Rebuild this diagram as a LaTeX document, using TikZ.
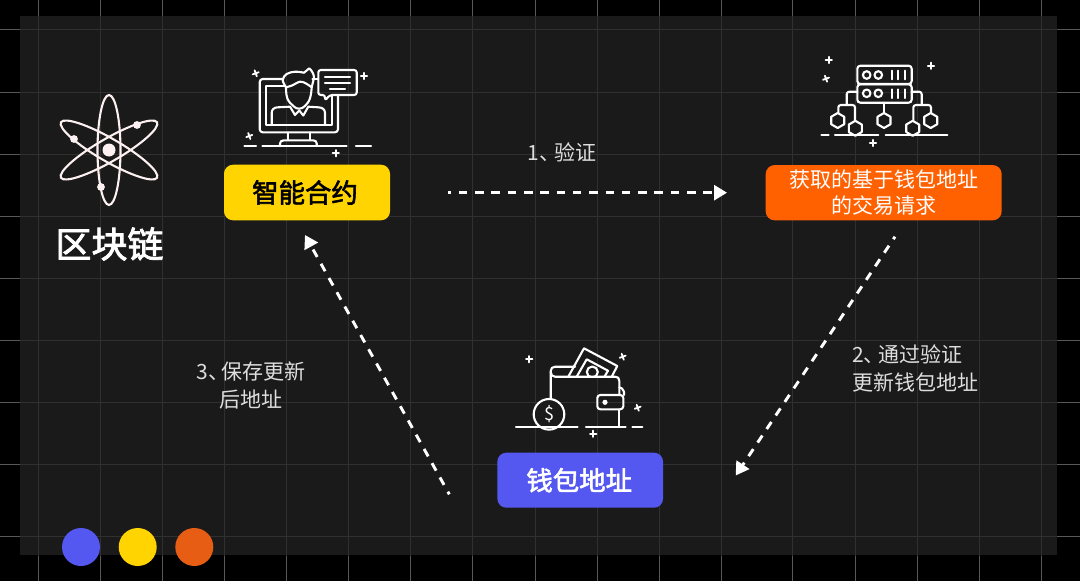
\documentclass[tikz,border=0pt]{standalone}
\usepackage{fontspec}
\setmainfont{Noto Sans CJK SC}
\newfontfamily\heavyfont[FakeBold=2.2]{Noto Sans CJK SC}
\usetikzlibrary{arrows.meta}
\definecolor{panelc}{HTML}{1A1A1A}
\definecolor{gridin}{HTML}{303030}
\definecolor{gridout}{HTML}{585858}
\definecolor{cyellow}{HTML}{FFD400}
\definecolor{corange}{HTML}{FF6000}
\definecolor{cblue}{HTML}{5558F0}
\definecolor{cdot}{HTML}{E85D14}
\definecolor{catom}{HTML}{FDF0F0}
\definecolor{ctext}{HTML}{DEDEDE}
\tikzset{
  x=1pt,y=-1pt,
  gridv/.style={line width=1pt},
  tag/.style={rounded corners=9pt,inner sep=0pt,outer sep=0pt,align=center,font=\heavyfont\fontsize{26.4}{30}\selectfont},
  lbl/.style={text=ctext,inner sep=0pt,font=\fontsize{21}{28}\selectfont},
  icon/.style={draw=white,line width=2.1pt,line cap=round,line join=round,fill=none},
  flow/.style={draw=white,line width=2.9pt,dash pattern=on 8.5pt off 7.8pt,dash phase=5.5pt,-{Triangle[length=13pt,width=15pt]}},
  orbit/.style={draw=catom,line width=2.1pt,fill=none},
  sparkle/.pic={\draw[white,line width=1.8pt,line cap=round] (-3.2,0)--(3.2,0) (0,-3.2)--(0,3.2);},
  hexa/.pic={\draw[icon,fill=panelc] (90:7.5)--(150:7.5)--(210:7.5)--(270:7.5)--(330:7.5)--(30:7.5)--cycle;}
}
\begin{document}
\begin{tikzpicture}
\useasboundingbox (0,0) rectangle (1080,581);
\fill[black] (0,0) rectangle (1080,581);
% grid on the black ground
\foreach \gx in {38.3,100,162.3,224.3,286.3,348.7,410.7,472.7,535,597,659.3,721,792.7,855,917,979.3,1041.3}
  \draw[gridv,gridout] (\gx,0)--(\gx,581);
\foreach \gy in {29.6,92,154,216,278.5,340,402.5,464.5,536}
  \draw[gridv,gridout] (0,\gy)--(1080,\gy);
% panel
\fill[panelc] (20,16) rectangle (1056.7,555);
\begin{scope}
\clip (20,16) rectangle (1056.7,555);
\foreach \gx in {38.3,100,162.3,224.3,286.3,348.7,410.7,472.7,535,597,659.3,721,792.7,855,917,979.3,1041.3}
  \draw[gridv,gridin] (\gx,0)--(\gx,581);
\foreach \gy in {29.6,92,154,216,278.5,340,402.5,464.5,536}
  \draw[gridv,gridin] (0,\gy)--(1080,\gy);
\end{scope}

% atom
\draw[orbit] (109,150) ellipse [x radius=11.5,y radius=55];
\draw[orbit,rotate around={60:(109,150)}] (109,150) ellipse [x radius=11.5,y radius=55.5];
\draw[orbit,rotate around={-60:(109,150)}] (109,150) ellipse [x radius=11.5,y radius=55.5];
\fill[catom] (109,150) circle (6.5) (137,125) circle (3.9) (74,139) circle (3.9) (101,187) circle (3.9);
\node[text=white,inner sep=0pt,font=\heavyfont\fontsize{36}{40}\selectfont] (title) at (109.5,244) {区块链};

% monitor icon
\draw[icon,rounded corners=3pt] (283,79)--(259.7,79)--(259.7,132.3)--(338,132.3)--(338,96);
\draw[icon] (312.5,79)--(318,79);
\draw[icon] (285,86)--(265.7,86)--(265.7,125.3)--(331.7,125.3)--(331.7,96);
% person
\draw[icon] plot[smooth,tension=0.7] coordinates {(286,87.3) (287.3,98.3) (293.3,106) (299,108.7) (305,106) (310,98.3) (311.7,87.3)};
\draw[icon] plot[smooth,tension=0.6] coordinates {(286,87.3) (282.7,80) (286.7,74) (295,71.7) (304,72.7)};
\draw[icon] (304,72.7) -- (309.3,68.3) .. controls (312,71) and (314,74) .. (314,78) -- (311.7,87.3);
\draw[icon] plot[smooth,tension=0.6] coordinates {(286,87.3) (292,85.5) (300,81.7) (306,83.5) (311.7,87.3)};
\draw[icon] (271.7,125) -- (271.7,113) .. controls (271.7,109.5) and (274,107.3) .. (278,107.3) -- (290,106.7) -- (295,115) -- (299.3,110.5) -- (303.3,115.5) -- (308.3,106.7) -- (318,107.3) .. controls (322.5,107.3) and (325,109.5) .. (325,113) -- (325,125);
% bubble
\draw[icon,rounded corners=2.5pt] (325,95) -- (318.3,95) -- (318.3,70) -- (356.7,70) -- (356.7,95) -- (330,95) -- (325,100.5) -- cycle;
\draw[icon] (325,76.7)--(350,76.7) (325,82.7)--(350,82.7) (330,88.7)--(345,88.7);
% stand
\draw[icon] (288.3,132.3)--(288.3,140) (310,132.3)--(310,140);
\draw[icon] (280,146)--(280,143.5) .. controls (280,141.5) and (281.5,140.3) .. (284,140.3) -- (313,140.3) .. controls (315.5,140.3) and (316.7,141.5) .. (316.7,143.5) -- (316.7,146);
\draw[icon] (244.5,146)--(256,146) (262.5,146)--(346.5,146) (356,146)--(371,146);
\pic at (364,76) {sparkle};
\pic at (335.7,153.3) {sparkle};
\pic[rotate=20] at (255.7,73.3) {sparkle};
\pic[rotate=20] at (249.3,136) {sparkle};

% server icon
\draw[icon,rounded corners=3pt] (857.3,65.7) rectangle (911.7,84);
\draw[icon,rounded corners=3pt] (857.3,84.3) rectangle (911.7,102.7);
\foreach \cy/\bt/\bb in {75/70.7/79.3,93.3/89.3/98}{
  \draw[icon] (866.7,\cy) circle (3.8) (878.3,\cy) circle (3.8);
  \draw[icon] (892,\bt)--(892,\bb) (898.3,\bt)--(898.3,\bb) (905,\bt)--(905,\bb);
}
\draw[icon,rounded corners=2.5pt] (857.3,91.7)--(846.7,91.7)--(846.7,105);
\draw[icon,rounded corners=2.5pt] (838.3,114)--(838.3,105)--(855,105)--(855,121.7);
\draw[icon] (884,102.7)--(884,114);
\draw[icon,rounded corners=2.5pt] (911.7,91.7)--(921.7,91.7)--(921.7,105);
\draw[icon,rounded corners=2.5pt] (913.3,121.7)--(913.3,105)--(931,105)--(931,114);
\pic at (837.7,120.5) {hexa};
\pic at (884,120.5) {hexa};
\pic at (930.7,120.5) {hexa};
\pic at (855.3,128.3) {hexa};
\pic at (912.7,128.3) {hexa};
\draw[icon] (821.5,135)--(828.7,135) (835,135)--(878.3,135) (885.7,135)--(947.3,135);
\pic at (828.7,60) {sparkle};
\pic at (931,65.7) {sparkle};
\pic at (873,143) {sparkle};
\pic[rotate=20] at (826,78.7) {sparkle};

% wallet icon
\draw[icon] (550.7,400)--(550.7,371) .. controls (550.7,368.5) and (552.5,366.7) .. (555,366.7)--(575,366.7);
\draw[icon] (550.7,372) .. controls (550.7,375) and (552.5,376.7) .. (555,376.7)--(615,376.7) .. controls (618,376.7) and (619.3,378) .. (619.3,381)--(619.3,395);
\draw[icon] (619.3,409.3)--(619.3,427);
\draw[icon] (568.3,376.7)--(584,348.3)--(617.3,366)--(611.7,376.7);
\draw[icon] (576.7,376.7)--(586.7,359.3)--(608,370.7)--(604.5,376.7);
\begin{scope}
\clip (580,360) rectangle (605,376.7);
\draw[icon] (592.3,372) circle (5.5);
\end{scope}
\draw[icon,rounded corners=3pt] (597.3,395) rectangle (623.3,409.3);
\fill[white] (605,402.3) circle (2.6);
\draw[icon] (619.3,387.3)--(622,388.5)--(624,391.7)--(624,395);
\draw[icon,fill=panelc] (549,414.3) circle (15.3);
\node[text=white,inner sep=0pt,font=\fontsize{18}{20}\selectfont] (dollar) at (549,414.3) {\$};
\draw[icon] (516,427.3)--(577.7,427.3) (586,427.3)--(625.7,427.3) (632.3,427.3)--(642.3,427.3);
\pic at (529.3,359.3) {sparkle};
\pic at (593.3,433.7) {sparkle};
\pic[rotate=20] at (622.7,356.7) {sparkle};
\pic[rotate=20] at (637.7,407.7) {sparkle};

% tags
\node[tag,fill=cyellow,text=black,minimum width=166pt,minimum height=55.6pt] (contract) at (307,192.5) {\kern-4pt 智能合约};
\node[tag,fill=corange,text=white,minimum width=236pt,minimum height=55.3pt,font=\fontsize{21}{25.5}\selectfont] (request) at (883.7,192.7) {获取的基于钱包地址\\的交易请求};
\node[tag,fill=cblue,text=white,minimum width=165.7pt,minimum height=55pt] (wallet) at (580.2,480.2) {\kern-2pt 钱包地址};

% connectors
\coordinate (s1) at (448,192.7);
\coordinate (e1) at (727,192.7);
\coordinate (s2) at (895,236.7);
\coordinate (e2) at (735.7,475.5);
\coordinate (s3) at (449.3,494.3);
\coordinate (e3) at (305,235);
\draw[flow] (s1)--(e1);
\draw[flow] (s2)--(e2);
\draw[flow] (s3)--(e3);
\node[lbl] (l1) at (562,152) {1、\kern-6pt 验证};
\node[lbl,align=left,anchor=west] (l2) at (852,368.5) {2、\kern-6pt 通过验证\\更新钱包地址};
\node[lbl,align=center] (l3) at (251,385.5) {3、\kern-8pt 保存更新\\后地址};

% dots
\fill[cblue] (81,547) circle (19);
\fill[cyellow] (137.7,547) circle (19);
\fill[cdot] (194.3,547) circle (19);
\end{tikzpicture}
\end{document}
